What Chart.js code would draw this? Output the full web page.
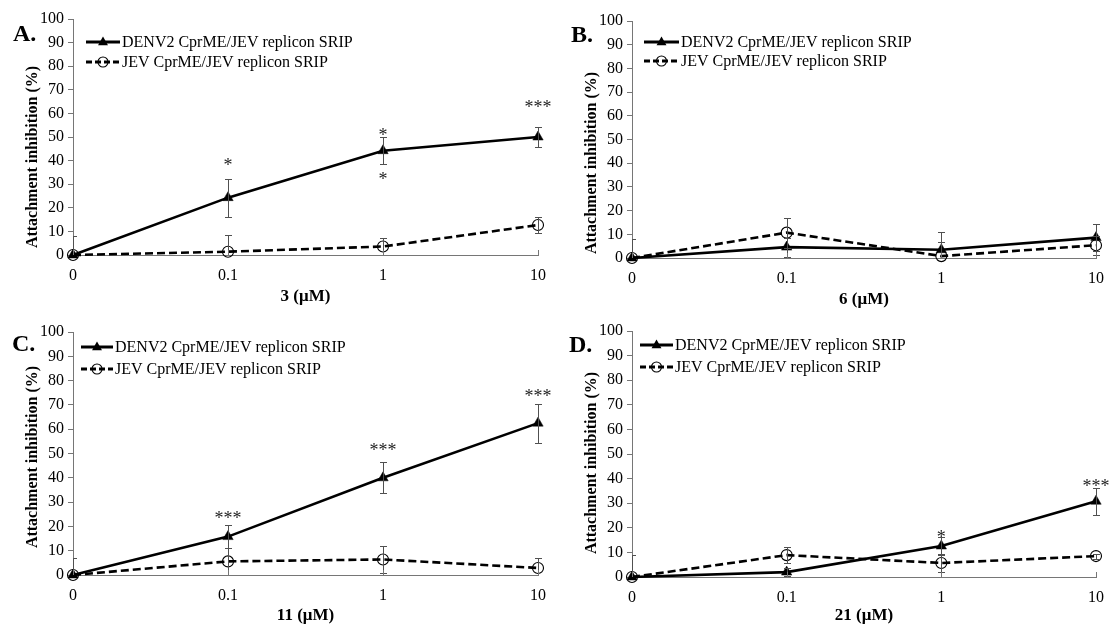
<!DOCTYPE html>
<html><head><meta charset="utf-8">
<script src="https://cdn.jsdelivr.net/npm/chart.js@4.4.1/dist/chart.umd.min.js"></script>
<style>
html,body{margin:0;padding:0;background:#fff;width:1115px;height:628px;overflow:hidden}
.panel{position:absolute}
</style></head><body>
<div class="panel" id="pA" style="left:0;top:0;width:557px;height:314px"><canvas id="cA"></canvas></div>
<div class="panel" id="pB" style="left:557px;top:0;width:558px;height:314px"><canvas id="cB"></canvas></div>
<div class="panel" id="pC" style="left:0;top:314px;width:557px;height:314px"><canvas id="cC"></canvas></div>
<div class="panel" id="pD" style="left:557px;top:314px;width:558px;height:314px"><canvas id="cD"></canvas></div>
<script>
// ---------- data ----------
const categories = ['0', '0.1', '1', '10'];
const yTickValues = [0, 10, 20, 30, 40, 50, 60, 70, 80, 90, 100];
const seriesNames = ['DENV2 CprME/JEV replicon SRIP', 'JEV CprME/JEV replicon SRIP'];
const panelLetters = ['A.', 'B.', 'C.', 'D.'];
const xTitles = ['3 (\u03bcM)', '6 (\u03bcM)', '11 (\u03bcM)', '21 (\u03bcM)'];
const yTitle = 'Attachment inhibition (%)';

const denvA = [0, 24.3, 44.2, 50.0];
const denvErrA = [0, 8.0, 5.8, 4.4];
const jevA = [0, 1.4, 3.6, 12.7];
const jevErrA = [8, 7.0, 3.4, 3.2];
const starsA = [[1, 39, '*'], [2, 52, '*'], [2, 33, '*'], [3, 63.6, '***']];

const denvB = [0, 4.6, 3.5, 8.6];
const denvErrB = [0, 4.0, 7.5, 5.6];
const jevB = [0, 10.7, 0.8, 5.4];
const jevErrB = [8, 6.3, 6.0, 4.0];
const starsB = [];

const denvC = [0, 15.8, 40.0, 62.5];
const denvErrC = [0, 4.7, 6.3, 8.0];
const jevC = [0, 5.6, 6.4, 2.9];
const jevErrC = [7, 5.4, 5.4, 4.1];
const starsC = [[1, 24.4, '***'], [2, 52.5, '***'], [3, 74.5, '***']];

const denvD = [0, 2.0, 12.6, 30.8];
const denvErrD = [0, 1.5, 3.5, 5.4];
const jevD = [0, 8.9, 5.7, 8.5];
const jevErrD = [9, 3.3, 3.5, 1.0];
const starsD = [[2, 17.2, '*'], [3, 37.8, '***']];

// ---------- layout (positions / styles) ----------
const FONT = '"Liberation Serif", "Times New Roman", serif';
const AXIS = '#767676';
const panels = [
  {id:'cA', W:557, H:314, left:73, right:16, top:19, bottom:255, tpb:7,
   letter:[13,41], legX:[86,120,122], legY:[42,62], yt:[33,157],
   d:denvA, de:denvErrA, j:jevA, je:jevErrA, stars:starsA, idx:0},
  {id:'cB', W:558, H:314, left:75, right:15, top:21, bottom:258, tpb:4,
   letter:[14,42], legX:[87,122,124], legY:[42,61], yt:[35,163],
   d:denvB, de:denvErrB, j:jevB, je:jevErrB, stars:starsB, idx:1},
  {id:'cC', W:557, H:314, left:73, right:16, top:18, bottom:261, tpb:2,
   letter:[12,37], legX:[81,113,115], legY:[33,55], yt:[33,143],
   d:denvC, de:denvErrC, j:jevC, je:jevErrC, stars:starsC, idx:2},
  {id:'cD', W:558, H:314, left:75, right:15, top:17, bottom:263, tpb:2,
   letter:[12,38], legX:[83,116,118], legY:[31,53], yt:[35,149],
   d:denvD, de:denvErrD, j:jevD, je:jevErrD, stars:starsD, idx:3}
];

function drawMarker(ctx, style, x, y) {
  ctx.save();
  ctx.setLineDash([]);
  if (style === 'triangle') {
    const r = 5.5;
    ctx.beginPath();
    ctx.moveTo(x, y - r);
    ctx.lineTo(x + r * 0.9, y + r * 0.6);
    ctx.lineTo(x - r * 0.9, y + r * 0.6);
    ctx.closePath();
    ctx.fillStyle = '#000';
    ctx.fill();
  } else {
    ctx.beginPath();
    ctx.arc(x, y, 5, 0, Math.PI * 2);
    ctx.lineWidth = 1.1;
    ctx.strokeStyle = '#000';
    ctx.stroke();
  }
  ctx.restore();
}

function makeDecor(p) {
  return {
    id: 'decor',
    afterDatasetsDraw(chart) {
      const ctx = chart.ctx, xs = chart.scales.x, ys = chart.scales.y, a = chart.chartArea;
      ctx.save();
      ctx.beginPath();
      ctx.rect(a.left, a.top - 2, a.right - a.left + 6, a.bottom - a.top + 2);
      ctx.clip();
      ctx.strokeStyle = '#505050';
      ctx.lineWidth = 1;
      [[p.d, p.de], [p.j, p.je]].forEach(([vals, errs]) => {
        vals.forEach((v, i) => {
          const e = errs[i];
          if (!e) return;
          const px = Math.round(xs.getPixelForValue(i)) + 0.5;
          const t = Math.round(ys.getPixelForValue(v + e)) + 0.5;
          const b = Math.round(ys.getPixelForValue(v - e)) + 0.5;
          ctx.beginPath();
          ctx.moveTo(px, t); ctx.lineTo(px, b);
          ctx.moveTo(px - 3.5, t); ctx.lineTo(px + 3.5, t);
          ctx.moveTo(px - 3.5, b); ctx.lineTo(px + 3.5, b);
          ctx.stroke();
        });
      });
      ctx.restore();
    },
    afterDraw(chart) {
      const ctx = chart.ctx, xs = chart.scales.x, ys = chart.scales.y, a = chart.chartArea;
      ctx.save();
      // upward x-axis tick marks
      ctx.strokeStyle = AXIS; ctx.lineWidth = 1;
      categories.forEach((c, i) => {
        const px = Math.round(xs.getPixelForValue(i)) + 0.5;
        ctx.beginPath(); ctx.moveTo(px, a.bottom); ctx.lineTo(px, a.bottom - 5); ctx.stroke();
      });
      // significance stars
      ctx.fillStyle = '#222';
      ctx.font = '18px ' + FONT;
      ctx.textAlign = 'center';
      ctx.textBaseline = 'alphabetic';
      p.stars.forEach(([i, v, t]) => {
        ctx.fillText(t, xs.getPixelForValue(i), ys.getPixelForValue(v) + 18 * 0.46);
      });
      // legend
      const styles = [{dash: [], marker: 'triangle'}, {dash: [6, 3], marker: 'circle'}];
      seriesNames.forEach((name, k) => {
        const yy = p.legY[k];
        ctx.beginPath();
        ctx.setLineDash(styles[k].dash);
        ctx.strokeStyle = '#000'; ctx.lineWidth = 3;
        ctx.moveTo(p.legX[0], yy); ctx.lineTo(p.legX[1], yy);
        ctx.stroke();
        ctx.setLineDash([]);
        drawMarker(ctx, styles[k].marker, (p.legX[0] + p.legX[1]) / 2, yy);
        ctx.fillStyle = '#000';
        ctx.font = '16px ' + FONT;
        ctx.textAlign = 'left';
        ctx.textBaseline = 'middle';
        ctx.fillText(name, p.legX[2], yy + 1);
      });
      // panel letter
      ctx.font = 'bold 24px ' + FONT;
      ctx.textAlign = 'left';
      ctx.textBaseline = 'alphabetic';
      ctx.fillStyle = '#000';
      ctx.fillText(panelLetters[p.idx], p.letter[0], p.letter[1]);
      // y axis title
      ctx.save();
      ctx.translate(p.yt[0], p.yt[1]);
      ctx.rotate(-Math.PI / 2);
      ctx.font = 'bold 16px ' + FONT;
      ctx.textAlign = 'center';
      ctx.textBaseline = 'middle';
      ctx.fillText(yTitle, 0, 0);
      ctx.restore();
      ctx.restore();
    }
  };
}

panels.forEach(p => {
  const ctx = document.getElementById(p.id);
  new Chart(ctx, {
    type: 'line',
    data: {
      labels: categories,
      datasets: [
        {label: seriesNames[0], data: p.d, borderColor: '#000', backgroundColor: '#000',
         borderWidth: 2.6, pointStyle: 'triangle', pointRadius: 6, pointBackgroundColor: '#000',
         pointBorderColor: '#000', pointBorderWidth: 0.5, tension: 0, fill: false, clip: false},
        {label: seriesNames[1], data: p.j, borderColor: '#000', backgroundColor: 'rgba(0,0,0,0)',
         borderWidth: 2.6, borderDash: [8, 4], pointStyle: 'circle', pointRadius: 5.5,
         pointBackgroundColor: 'rgba(0,0,0,0)', pointBorderColor: '#000', pointBorderWidth: 1.1,
         tension: 0, fill: false, clip: false}
      ]
    },
    options: {
      responsive: true, maintainAspectRatio: false, animation: false, devicePixelRatio: 1,
      layout: {padding: {left: 0, right: p.right, top: p.top, bottom: 0}},
      plugins: {legend: {display: false}, tooltip: {enabled: false}},
      scales: {
        x: {
          type: 'category', offset: false,
          grid: {display: true, drawOnChartArea: false, drawTicks: false, color: AXIS},
          border: {display: true, color: AXIS, width: 1},
          ticks: {color: '#000', font: {family: FONT, size: 16}, padding: 11, maxRotation: 0, autoSkip: false},
          title: {display: true, text: xTitles[p.idx], color: '#000',
                  font: {family: FONT, size: 17, weight: 'bold'}, padding: {top: 0, bottom: p.tpb}},
          afterFit: s => { s.height = p.H - p.bottom; }
        },
        y: {
          type: 'linear', min: 0, max: 100,
          afterBuildTicks: s => { s.ticks = yTickValues.map(v => ({value: v})); },
          grid: {display: true, drawOnChartArea: false, drawTicks: true, tickLength: 5, color: AXIS},
          border: {display: true, color: AXIS, width: 1},
          ticks: {color: '#000', font: {family: FONT, size: 16}, padding: 4},
          afterFit: s => { s.width = p.left; }
        }
      }
    },
    plugins: [makeDecor(p)]
  });
});
</script>
</body></html>
